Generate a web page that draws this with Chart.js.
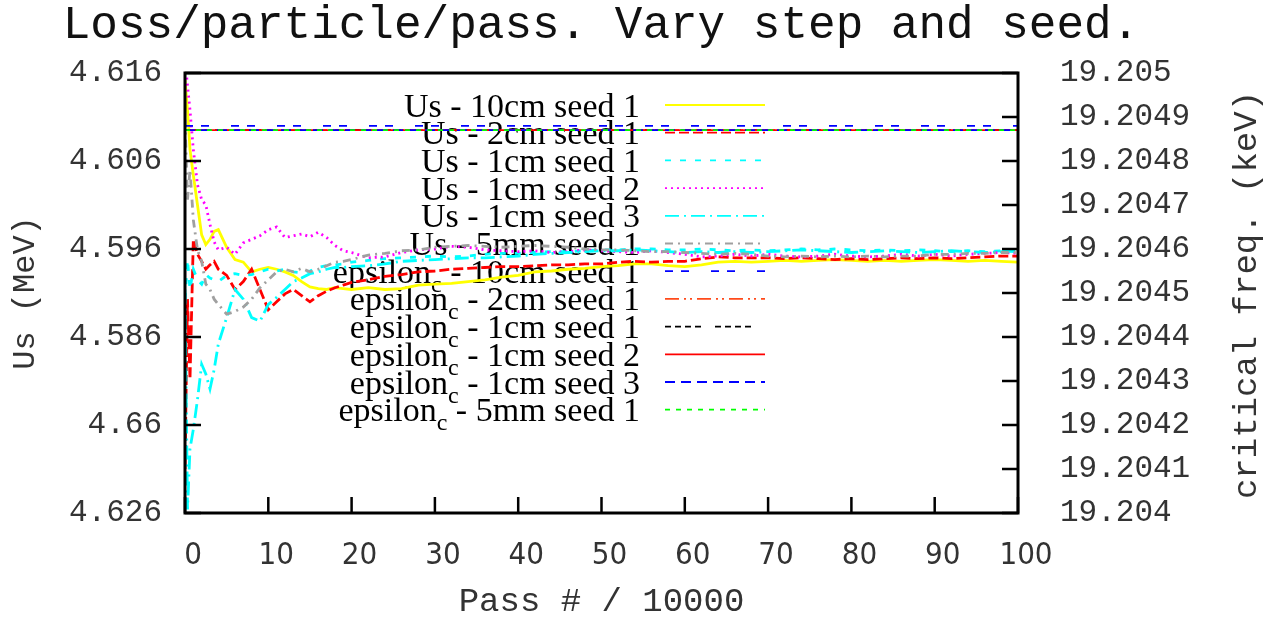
<!DOCTYPE html>
<html>
<head>
<meta charset="utf-8">
<title>Loss/particle/pass</title>
<script src="https://cdn.jsdelivr.net/npm/chart.js@4.4.1/dist/chart.umd.min.js"></script>
<style>
  html, body { margin: 0; padding: 0; background: #fff; }
  #wrap { width: 1276px; height: 622px; }
</style>
</head>
<body>
<div id="wrap"><canvas id="loss"></canvas></div>
<script>
// pass number / 10000
const passes = [
  0, 0.3, 0.6, 1, 1.5, 2, 2.5, 3, 3.5, 4,
  5, 6, 7, 8, 9, 10, 11, 12, 13, 14, 15, 16, 17, 18, 19, 20,
  22, 24, 26, 28, 30, 32, 34, 36, 38, 40,
  42, 44, 46, 48, 50, 52, 54, 56, 58, 60,
  62, 64, 66, 68, 70, 72, 74, 76, 78, 80,
  82, 84, 86, 88, 90, 92, 94, 96, 98, 100
];

// Us (MeV), left axis
const us10cmSeed1 = [
  4.6152, 4.6118, 4.6073, 4.6044, 4.6010, 4.5976, 4.5965, 4.5971, 4.5980, 4.5982,
  4.5962, 4.5948, 4.5945, 4.5934, 4.5937, 4.5939, 4.5937, 4.5934, 4.5930, 4.5923, 4.5917, 4.5915, 4.5914, 4.5916, 4.5915, 4.5914,
  4.5916, 4.5914, 4.5915, 4.5919, 4.5920, 4.5921, 4.5923, 4.5925, 4.5928, 4.5930,
  4.5934, 4.5935, 4.5937, 4.5938, 4.5940, 4.5941, 4.5943, 4.5943, 4.5941, 4.5940,
  4.5942, 4.5945, 4.5946, 4.5945, 4.5946, 4.5947, 4.5946, 4.5947, 4.5948, 4.5947,
  4.5946, 4.5947, 4.5946, 4.5947, 4.5948, 4.5947, 4.5946, 4.5947, 4.5946, 4.5945
];
const us2cmSeed1 = [
  4.5710, 4.5903, 4.5812, 4.5971, 4.5954, 4.5946, 4.5937, 4.5942, 4.5946, 4.5937,
  4.5930, 4.5914, 4.5923, 4.5937, 4.5914, 4.5891, 4.5900, 4.5909, 4.5914, 4.5907, 4.5900, 4.5907, 4.5912, 4.5916, 4.5919, 4.5922,
  4.5925, 4.5929, 4.5931, 4.5934, 4.5935, 4.5937, 4.5938, 4.5939, 4.5940, 4.5940,
  4.5941, 4.5942, 4.5942, 4.5943, 4.5943, 4.5945, 4.5946, 4.5945, 4.5946, 4.5946,
  4.5949, 4.5951, 4.5950, 4.5950, 4.5950, 4.5949, 4.5950, 4.5949, 4.5948, 4.5949,
  4.5948, 4.5949, 4.5950, 4.5949, 4.5950, 4.5949, 4.5950, 4.5951, 4.5952, 4.5952
];
const us1cmSeed1 = [
  4.5903, 4.5948, 4.5914, 4.5937, 4.5925, 4.5920, 4.5931, 4.5927, 4.5925, 4.5923,
  4.5930, 4.5932, 4.5930, 4.5931, 4.5934, 4.5937, 4.5935, 4.5937, 4.5934, 4.5933, 4.5935, 4.5939, 4.5941, 4.5942, 4.5943, 4.5945,
  4.5947, 4.5949, 4.5950, 4.5951, 4.5952, 4.5951, 4.5952, 4.5954, 4.5955, 4.5955,
  4.5956, 4.5957, 4.5957, 4.5958, 4.5959, 4.5959, 4.5960, 4.5960, 4.5959, 4.5959,
  4.5960, 4.5959, 4.5958, 4.5959, 4.5958, 4.5959, 4.5960, 4.5959, 4.5960, 4.5959,
  4.5958, 4.5959, 4.5958, 4.5959, 4.5958, 4.5957, 4.5958, 4.5957, 4.5958, 4.5957
];
const us1cmSeed2 = [
  4.6175, 4.6146, 4.6118, 4.6073, 4.6033, 4.6016, 4.6010, 4.5988, 4.5968, 4.5959,
  4.5962, 4.5954, 4.5967, 4.5971, 4.5975, 4.5982, 4.5985, 4.5973, 4.5975, 4.5977, 4.5974, 4.5979, 4.5973, 4.5964, 4.5958, 4.5956,
  4.5950, 4.5951, 4.5956, 4.5959, 4.5960, 4.5963, 4.5962, 4.5959, 4.5958, 4.5957,
  4.5958, 4.5956, 4.5957, 4.5959, 4.5958, 4.5957, 4.5956, 4.5958, 4.5956, 4.5954,
  4.5951, 4.5952, 4.5954, 4.5952, 4.5954, 4.5952, 4.5951, 4.5952, 4.5954, 4.5952,
  4.5951, 4.5952, 4.5954, 4.5952, 4.5954, 4.5952, 4.5954, 4.5955, 4.5956, 4.5955
];
const us1cmSeed3 = [
  4.5914, 4.5664, 4.5733, 4.5755, 4.5789, 4.5829, 4.5818, 4.5801, 4.5823, 4.5852,
  4.5882, 4.5914, 4.5903, 4.5882, 4.5878, 4.5897, 4.5905, 4.5914, 4.5923, 4.5927, 4.5932, 4.5934, 4.5937, 4.5939, 4.5939, 4.5940,
  4.5941, 4.5943, 4.5946, 4.5947, 4.5948, 4.5949, 4.5950, 4.5950, 4.5951, 4.5952,
  4.5954, 4.5955, 4.5956, 4.5957, 4.5958, 4.5958, 4.5959, 4.5958, 4.5957, 4.5956,
  4.5957, 4.5956, 4.5957, 4.5956, 4.5957, 4.5958, 4.5959, 4.5958, 4.5957, 4.5956,
  4.5957, 4.5958, 4.5957, 4.5956, 4.5957, 4.5958, 4.5957, 4.5956, 4.5957, 4.5958
];
const us5mmSeed1 = [
  4.6107, 4.6016, 4.6050, 4.5993, 4.5959, 4.5946, 4.5920, 4.5914, 4.5903, 4.5897,
  4.5886, 4.5889, 4.5894, 4.5903, 4.5916, 4.5925, 4.5934, 4.5937, 4.5934, 4.5938, 4.5934, 4.5937, 4.5941, 4.5945, 4.5946, 4.5948,
  4.5953, 4.5955, 4.5958, 4.5959, 4.5962, 4.5963, 4.5964, 4.5963, 4.5962, 4.5963,
  4.5964, 4.5963, 4.5962, 4.5960, 4.5959, 4.5959, 4.5958, 4.5957, 4.5957, 4.5956,
  4.5955, 4.5954, 4.5955, 4.5954, 4.5952, 4.5951, 4.5952, 4.5951, 4.5952, 4.5951,
  4.5952, 4.5951, 4.5952, 4.5952, 4.5954, 4.5954, 4.5955, 4.5955, 4.5956, 4.5956
];

// critical freq. (keV), right axis
const epsPasses = [0, 100];
const eps10cmSeed1 = [19.20488, 19.20488];
const eps2cmSeed1 = [19.20487, 19.20487];
const eps1cmSeed1 = [19.20487, 19.20487];
const eps1cmSeed2 = [19.20487, 19.20487];
const eps1cmSeed3 = [19.20487, 19.20487];
const eps5mmSeed1 = [19.20487, 19.20487];

// axis ticks
const passTicks = [0, 10, 20, 30, 40, 50, 60, 70, 80, 90, 100];
const usTickValues = [4.566, 4.576, 4.586, 4.596, 4.606, 4.616];
const usTickLabels = ['4.626', '4.66', '4.586', '4.596', '4.606', '4.616'];
const epsTickValues = [19.204, 19.2041, 19.2042, 19.2043, 19.2044, 19.2045, 19.2046, 19.2047, 19.2048, 19.2049, 19.205];
const epsTickLabels = ['19.204', '19.2041', '19.2042', '19.2043', '19.2044', '19.2045', '19.2046', '19.2047', '19.2048', '19.2049', '19.205'];

const series = [
  { label: 'Us - 10cm seed 1', xs: passes, ys: us10cmSeed1, axis: 'y', color: '#ffff00', dash: [] },
  { label: 'Us - 2cm seed 1', xs: passes, ys: us2cmSeed1, axis: 'y', color: '#ff0000', dash: [10, 4] },
  { label: 'Us - 1cm seed 1', xs: passes, ys: us1cmSeed1, axis: 'y', color: '#00ffff', dash: [6, 9] },
  { label: 'Us - 1cm seed 2', xs: passes, ys: us1cmSeed2, axis: 'y', color: '#ff00ff', dash: [2, 4] },
  { label: 'Us - 1cm seed 3', xs: passes, ys: us1cmSeed3, axis: 'y', color: '#00ffff', dash: [14, 5, 2, 5] },
  { label: 'Us - 5mm seed 1', xs: passes, ys: us5mmSeed1, axis: 'y', color: '#a0a0a0', dash: [8, 5, 2, 5] },
  { label: 'epsilon_c - 10cm seed 1', xs: epsPasses, ys: eps10cmSeed1, axis: 'y1', color: '#0000ff', dash: [8, 8, 8, 22] },
  { label: 'epsilon_c - 2cm seed 1', xs: epsPasses, ys: eps2cmSeed1, axis: 'y1', color: '#ff4a1a', dash: [14, 5, 2, 4, 2, 5] },
  { label: 'epsilon_c - 1cm seed 1', xs: epsPasses, ys: eps1cmSeed1, axis: 'y1', color: '#000000', dash: [6, 4, 6, 4, 6, 4, 6, 14] },
  { label: 'epsilon_c - 1cm seed 2', xs: epsPasses, ys: eps1cmSeed2, axis: 'y1', color: '#ff0000', dash: [] },
  { label: 'epsilon_c - 1cm seed 3', xs: epsPasses, ys: eps1cmSeed3, axis: 'y1', color: '#0000ff', dash: [10, 6] },
  { label: 'epsilon_c - 5mm seed 1', xs: epsPasses, ys: eps5mmSeed1, axis: 'y1', color: '#00ff00', dash: [5, 6] }
];

const datasets = series.map((s, i) => ({
  label: s.label,
  data: s.xs.map((x, j) => ({ x: x, y: s.ys[j] })),
  yAxisID: s.axis,
  borderColor: s.color,
  borderDash: s.dash,
  // the Us traces are noisy, so they read as a thicker band
  borderWidth: s.axis === 'y' ? 2.8 : 1.8,
  pointRadius: 0,
  fill: false,
  order: -i   // later series on top
}));

const MONO = '"Liberation Mono", "DejaVu Sans Mono", monospace';
const SERIF = '"Liberation Serif", "DejaVu Serif", serif';

// key: right-aligned labels with the line sample to their right
function drawKeyText(ctx, text, right, baseline) {
  const parts = text.split('_c');
  const main = '34px ' + SERIF, sub = '24px ' + SERIF;
  ctx.font = main;
  const w0 = ctx.measureText(parts[0]).width;
  const w2 = parts.length > 1 ? ctx.measureText(parts[1]).width : 0;
  ctx.font = sub;
  const w1 = parts.length > 1 ? ctx.measureText('c').width : 0;
  let x = right - (w0 + w1 + w2);
  ctx.textAlign = 'left';
  ctx.textBaseline = 'alphabetic';
  ctx.font = main;
  ctx.fillText(parts[0], x, baseline);
  if (parts.length > 1) {
    x += w0;
    ctx.font = sub;
    ctx.fillText('c', x, baseline + 9);
    x += w1;
    ctx.font = main;
    ctx.fillText(parts[1], x, baseline);
  }
}

const keyPlugin = {
  id: 'key',
  beforeDatasetsDraw(chart) {
    const ctx = chart.ctx;
    ctx.save();
    chart.data.datasets.forEach((ds, i) => {
      const y = 105 + i * 27.7;
      ctx.fillStyle = '#000';
      drawKeyText(ctx, ds.label, 640, y + 11.5);
      ctx.beginPath();
      ctx.strokeStyle = ds.borderColor;
      ctx.lineWidth = 1.8;
      ctx.setLineDash(ds.borderDash);
      ctx.moveTo(665, y);
      ctx.lineTo(765, y);
      ctx.stroke();
    });
    ctx.restore();
  }
};

const framePlugin = {
  id: 'frame',
  afterDatasetsDraw(chart) {
    const { ctx, chartArea: a, scales } = chart;
    ctx.save();
    ctx.strokeStyle = '#000';
    ctx.setLineDash([]);
    ctx.lineWidth = 2.5;
    ctx.beginPath();
    scales.x.ticks.forEach(t => {
      const px = scales.x.getPixelForValue(t.value);
      ctx.moveTo(px, a.bottom);
      ctx.lineTo(px, a.bottom - 16);
    });
    scales.y.ticks.forEach(t => {
      const py = scales.y.getPixelForValue(t.value);
      ctx.moveTo(a.left, py);
      ctx.lineTo(a.left + 16, py);
    });
    scales.y1.ticks.forEach(t => {
      const py = scales.y1.getPixelForValue(t.value);
      ctx.moveTo(a.right, py);
      ctx.lineTo(a.right - 16, py);
    });
    ctx.stroke();
    ctx.lineWidth = 3;
    ctx.strokeRect(a.left, a.top, a.width, a.height);
    ctx.restore();
  },
  afterDraw(chart) {
    const ctx = chart.ctx;
    ctx.save();
    ctx.fillStyle = '#111';
    ctx.font = '46px ' + MONO;
    ctx.textAlign = 'center';
    ctx.textBaseline = 'alphabetic';
    ctx.fillText('Loss/particle/pass. Vary step and seed.', 601, 38);
    // right axis title, reading upwards
    ctx.fillStyle = '#333';
    ctx.font = '34px ' + MONO;
    ctx.translate(1247, 295);
    ctx.rotate(-Math.PI / 2);
    ctx.textBaseline = 'middle';
    ctx.fillText('critical freq. (keV)', 0, 0);
    ctx.restore();
  }
};

new Chart(document.getElementById('loss'), {
  type: 'line',
  data: { datasets: datasets },
  options: {
    responsive: true,
    maintainAspectRatio: false,
    animation: false,
    layout: { padding: { top: 73, left: 0, right: 0, bottom: 0 } },
    plugins: {
      legend: { display: false },
      tooltip: { enabled: false }
    },
    scales: {
      x: {
        type: 'linear',
        min: 0,
        max: 100,
        afterBuildTicks: s => { s.ticks = passTicks.map(v => ({ value: v })); },
        afterFit: s => { s.height = 109; },
        grid: { display: false, drawTicks: false },
        border: { display: false },
        ticks: {
          color: '#333',
          padding: 24,
          labelOffset: 8,
          maxRotation: 0,
          font: { family: '"Liberation Sans Narrow", "DejaVu Sans Condensed", sans-serif', size: 31 }
        },
        title: {
          display: true,
          text: 'Pass # / 10000',
          color: '#333',
          padding: { top: 0, bottom: 0 },
          font: { family: MONO, size: 34 }
        }
      },
      y: {
        position: 'left',
        min: 4.566,
        max: 4.616,
        afterBuildTicks: s => { s.ticks = usTickValues.map(v => ({ value: v })); },
        afterFit: s => { s.width = 185; },
        grid: { display: false, drawTicks: false },
        border: { display: false },
        ticks: {
          color: '#333',
          padding: 23,
          font: { family: MONO, size: 31 },
          callback: (v, i) => usTickLabels[i]
        },
        title: {
          display: true,
          text: 'Us (MeV)',
          color: '#333',
          padding: { top: 6, bottom: 0 },
          font: { family: MONO, size: 32 }
        }
      },
      y1: {
        position: 'right',
        min: 19.204,
        max: 19.205,
        afterBuildTicks: s => { s.ticks = epsTickValues.map(v => ({ value: v })); },
        afterFit: s => { s.width = 258; },
        grid: { display: false, drawTicks: false },
        border: { display: false },
        ticks: {
          color: '#333',
          padding: 42,
          font: { family: MONO, size: 31 },
          callback: (v, i) => epsTickLabels[i]
        }
      }
    }
  },
  plugins: [keyPlugin, framePlugin]
});
</script>
</body>
</html>
